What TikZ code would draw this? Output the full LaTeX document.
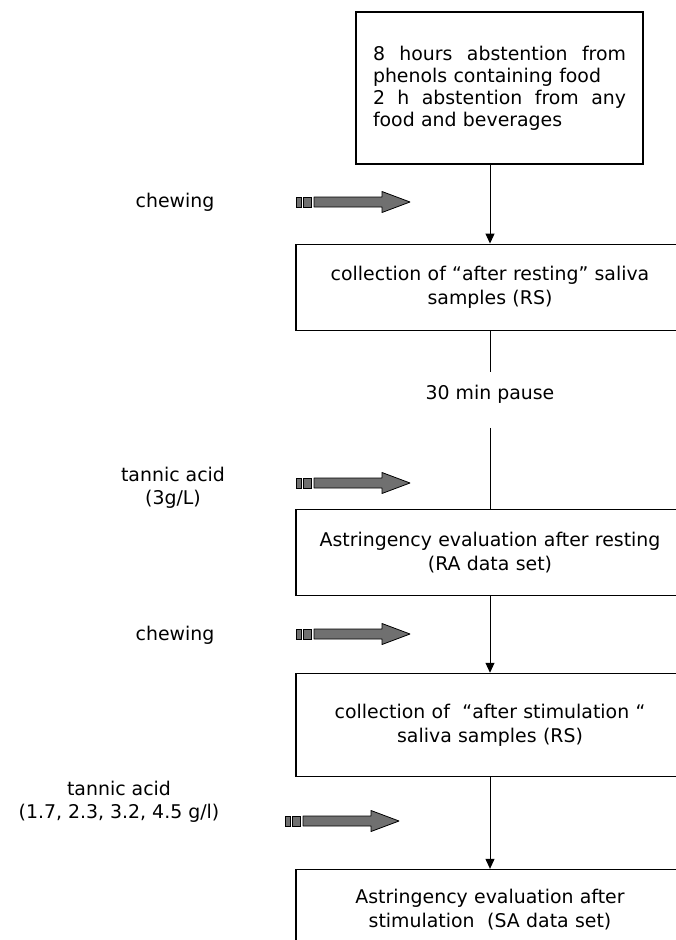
\documentclass[tikz,border=0pt]{standalone}
\usepackage{fontspec}
\setmainfont{DejaVu Sans}
\usepackage{tikz}
\usetikzlibrary{arrows.meta, positioning}
\newcommand{\flowfont}{\fontsize{18.9}{24}\selectfont}
\definecolor{feedgray}{RGB}{112,112,112}
\tikzstyle{notebox}  = [rectangle, draw=black, line width=1.1pt, text width=253pt, inner xsep=17pt,
                        minimum height=152pt, align=left, font=\fontsize{18.9}{22}\selectfont]
\tikzstyle{stepbox}  = [rectangle, draw=black, line width=1.1pt, text width=360pt, inner xsep=14pt,
                        minimum height=86pt, align=center, font=\flowfont]
\tikzstyle{sidetext} = [inner sep=0pt, align=center, font=\fontsize{18.9}{23}\selectfont]
\tikzstyle{arrow}    = [-{Triangle[length=10pt, width=9pt]}, line width=1pt]
\tikzstyle{flow}     = [line width=1pt]
\tikzset{feed/.pic={
  \draw[fill=feedgray, line width=0.8pt] (0,-5) rectangle (5,5) (7,-5) rectangle (15,5);
  \draw[fill=feedgray, line width=0.8pt, line join=round]
    (18,-5) -- (86,-5) -- (86,-10.5) -- (114,0) -- (86,10.5) -- (86,5) -- (18,5) -- cycle;
}}

\begin{document}
\begin{tikzpicture}[x=1pt, y=-1pt]
  \useasboundingbox (0,0) rectangle (675,940);

  \node (abstain) [notebox] at (499.5,88)
    {\makebox[253pt][l]{8\hfill hours\hfill abstention\hfill from}\\ phenols containing food\\
     \makebox[253pt][l]{2\hfill h\hfill abstention\hfill from\hfill any}\\ food and beverages};
  \node (restsal) [stepbox, below=79pt of abstain, xshift=-9.5pt]
    {collection of “after resting” saliva\\ samples (RS)};
  \node (restast) [stepbox, below=178pt of restsal]
    {Astringency evaluation after resting\\ (RA data set)};
  \node (stimsal) [stepbox, below=77pt of restast, minimum height=103pt]
    {collection of\ \ “after stimulation “\\ saliva samples (RS)};
  \node (stimast) [stepbox, below=92pt of stimsal, minimum height=80pt]
    {Astringency evaluation after\\ stimulation\ \ (SA data set)};
  \node (pause)   [sidetext] at (490,394) {30 min pause};

  % inputs on the left
  \node (chew1)   [sidetext] at (175,202) {chewing};
  \node (tannin1) [sidetext] at (173,488) {tannic acid\\ (3g/L)};
  \node (chew2)   [sidetext] at (175,635) {chewing};
  \node (tannin2) [sidetext] at (119,802) {tannic acid\\ (1.7, 2.3, 3.2, 4.5 g/l)};

  \pic (feed1) at (296,202) {feed};
  \pic (feed2) at (296,483) {feed};
  \pic (feed3) at (296,634) {feed};
  \pic (feed4) at (285,821) {feed};

  \draw [arrow] (restsal.north |- abstain.south) -- (restsal);
  \draw [flow, shorten >=12.5pt] (restsal) -- (pause);
  \draw [flow, shorten <=24.5pt] (pause) -- (restast);
  \draw [arrow] (restast) -- (stimsal);
  \draw [arrow] (stimsal) -- (stimast);
\end{tikzpicture}
\end{document}
